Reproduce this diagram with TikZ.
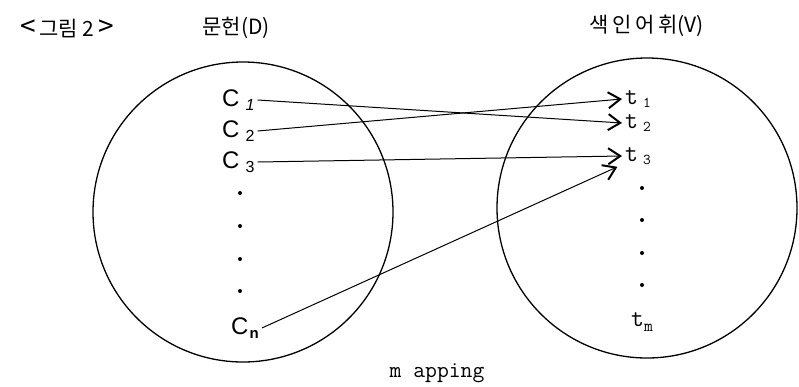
\documentclass[tikz,border=0pt]{standalone}
\usepackage{fontspec}
\usetikzlibrary{arrows.meta}
\newfontfamily\krfont{Noto Sans CJK KR}
\newfontfamily\cfont{Liberation Sans}
\tikzset{
  set/.style={circle, draw, line width=1.3pt, minimum size=300pt, inner sep=0pt},
  cnode/.style={anchor=west, inner xsep=3pt, inner ysep=1pt, font=\cfont\fontsize{24}{26}\selectfont},
  tnode/.style={anchor=west, inner xsep=3pt, inner ysep=0pt, font=\ttfamily\fontsize{25}{26}\selectfont},
  dotnode/.style={circle, fill, inner sep=0pt, minimum size=4pt},
  map/.style={line width=1pt, -{Straight Barb[length=12pt,width=16pt,line width=2pt]}},
  title/.style={font=\krfont\fontsize{21}{24}\selectfont, inner sep=0pt}
}
\newcommand{\subsc}[1]{\hspace{6pt}\raisebox{-4pt}{\fontsize{16}{16}\selectfont #1}}
\newcommand{\tsub}[1]{\hspace{5pt}\raisebox{-3pt}{\fontsize{15}{15}\selectfont #1}}
\begin{document}
\begin{tikzpicture}[x=1pt,y=-1pt]
\useasboundingbox (0,0) rectangle (799,386);
% titles
\node[title] (fig) at (67,29) {{\fontsize{28}{28}\selectfont<}\,그림 2\,{\fontsize{28}{28}\selectfont>}};
\node[title] (dlab) at (236,28) {문헌(D)};
\node[title] (vlab) at (647,26) {색\,인\,어\,휘(V)};
% circles
\node[set] (D) at (243,212) {};
\node[set] (V) at (647,208) {};
% left items
\node[cnode] (c1) at (219,100) {C\subsc{\itshape 1}};
\node[cnode] (c2) at (219,131) {C\subsc{2}};
\node[cnode] (c3) at (219,162) {C\subsc{3}};
\node[dotnode] (ld1) at (240,193) {};
\node[dotnode] (ld2) at (240,226) {};
\node[dotnode] (ld3) at (240,259) {};
\node[dotnode] (ld4) at (240,291) {};
\node[cnode] (cn) at (228,328) {C\hspace{1pt}\raisebox{-4pt}{\fontsize{15}{15}\selectfont\bfseries n}};
% right items
\node[tnode] (t1) at (622,99) {t\tsub{1}};
\node[tnode] (t2) at (622,123) {t\tsub{2}};
\node[tnode] (t3) at (622,156) {t\tsub{3}};
\node[dotnode] (rd1) at (642,188) {};
\node[dotnode] (rd2) at (642,220) {};
\node[dotnode] (rd3) at (642,253) {};
\node[dotnode] (rd4) at (642,285) {};
\node[tnode] (tm) at (628,322) {t\hspace{0pt}\raisebox{-5pt}{\fontsize{17}{17}\selectfont m}};
% mapping label
\node[font=\ttfamily\fontsize{23}{25}\selectfont, inner sep=0pt] (mlab) at (437,373) {m apping};
% connectors
\draw[map] (c1.east) -- (t2.west);
\draw[map] (c2.east) -- (t1.west);
\draw[map] (c3.east) -- (t3.west);
\draw[map, shorten >=5pt] (cn.east) -- (t3.south west);
\end{tikzpicture}
\end{document}
